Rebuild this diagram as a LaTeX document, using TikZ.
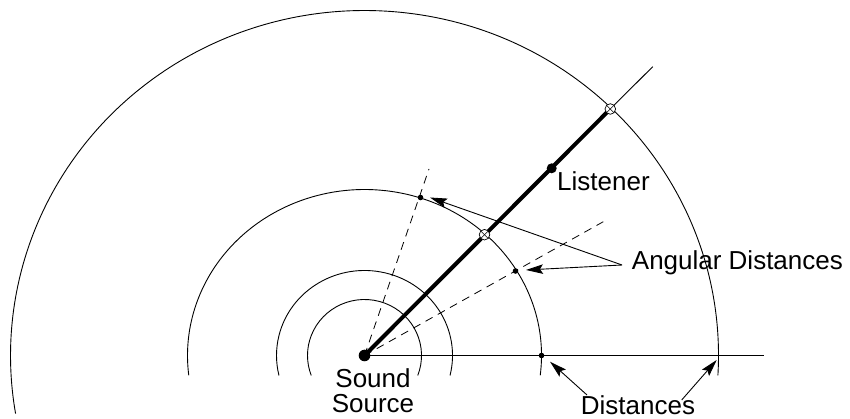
\documentclass[tikz,border=0pt]{standalone}
\usepackage{fontspec}
\setmainfont{Liberation Sans}
\usetikzlibrary{arrows.meta, calc}

\tikzset{
  thinline/.style={line width=0.9pt},
  thickline/.style={line width=4pt},
  dashline/.style={line width=0.8pt, dash pattern=on 8pt off 6pt},
  ptr/.style={line width=0.9pt, -{Stealth[length=17pt, width=9.5pt, inset=3pt]}},
  lbl/.style={font=\fontsize{26}{26}\selectfont, inner sep=0pt},
  marker/.style={line width=0.7pt, fill=white},
}

\begin{document}
\begin{tikzpicture}[x=1pt, y=1pt]
  \useasboundingbox (0,0) rectangle (850,419);

  % Points
  \coordinate (src) at (364.5,63.5);
  \coordinate (hend) at (764,63.5);
  \coordinate (dnear) at (541.5,63.5);
  \coordinate (dfar) at (718,63.5);
  \coordinate (outer) at (610.3,310);
  \coordinate (beyond) at (652.7,352.3);
  \coordinate (inner) at (484.5,184.3);
  \coordinate (lis) at (551.7,250.7);
  \coordinate (angA) at (420.5,221.5);
  \coordinate (angAend) at (429,250);
  \coordinate (angB) at (515.5,148);
  \coordinate (angBend) at (603.3,197.3);

  % Wave fronts
  \draw[thinline] (src) ++(-20.9:57 and 56) arc[start angle=-20.9, end angle=200.9, x radius=57, y radius=56];
  \draw[thinline] (src) ++(-13.6:88 and 85) arc[start angle=-13.6, end angle=193.6, x radius=88, y radius=85];
  \draw[thinline] (src) ++(-6.9:177 and 166) arc[start angle=-6.9, end angle=186.9, x radius=177, y radius=166];
  \draw[thinline] (src) ++(-3.3:354 and 345) arc[start angle=-3.3, end angle=189.7, x radius=354, y radius=345];

  % Rays
  \draw[thinline] (src) -- (hend);
  \draw[dashline] (src) -- (angAend);
  \draw[dashline] (src) -- (angBend);
  \draw[thickline] (src) -- (outer);
  \draw[thinline] (outer) -- (beyond);

  % Dots and markers
  \fill (src) circle[radius=5.8];
  \fill (lis) circle[radius=5];
  \foreach \p in {dnear, angA, angB} \fill (\p) circle[radius=2.8];
  \foreach \p in {outer, inner} {
    \draw[marker] (\p) circle[radius=5.3];
    \draw[line width=0.6pt] ($(\p)+(-3.7,-3.7)$) -- ($(\p)+(3.7,3.7)$);
    \draw[line width=0.6pt] ($(\p)+(-3.7,3.7)$) -- ($(\p)+(3.7,-3.7)$);
  }

  % Labels
  \node[lbl, anchor=base west] (listener) at (557,228.3) {Listener};
  \node[lbl, anchor=base west] (angular) at (631.7,149.7) {Angular Distances};
  \node[lbl, anchor=base] (sound) at (373,31.5) {Sound};
  \node[lbl, anchor=base] (source) at (373,6.5) {Source};
  \node[lbl, anchor=base] (dist) at (638,4) {Distances};

  % Pointers
  \coordinate (angtail) at (622,154);
  \coordinate (disttailL) at (587,24);
  \coordinate (disttailR) at (681.7,19);
  \draw[ptr] (angtail) -- ([xshift=9.5pt]angA);
  \draw[ptr] (angtail) -- ([xshift=10.5pt, yshift=1pt]angB);
  \draw[ptr] (disttailL) -- ([xshift=8.5pt, yshift=-6.2pt]dnear);
  \draw[ptr] (disttailR) -- ([xshift=-1.3pt, yshift=-4.5pt]dfar);
\end{tikzpicture}
\end{document}
